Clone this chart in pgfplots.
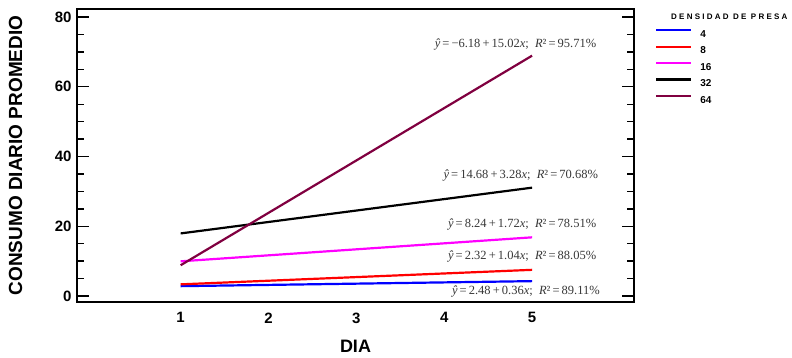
\documentclass[border=0pt]{standalone}
\usepackage{fontspec}
\setmainfont{Liberation Sans}
\newfontfamily\spaced[LetterSpace=28]{Liberation Sans}
\newfontfamily\serif{Liberation Serif}
\usepackage{pgfplots}
\pgfplotsset{compat=1.18}
\definecolor{maroonc}{RGB}{128,0,64}
\definecolor{anncol}{RGB}{55,55,55}
\definecolor{cblue}{RGB}{0,0,255}
\definecolor{cred}{RGB}{255,0,0}
\definecolor{cmag}{RGB}{255,0,255}
\newcommand{\eqn}[3]{{\itshape ŷ}\,=\,#1\,+\,#2{\itshape x};\ \ {\itshape R}²\,=\,#3\%}
\begin{document}
\begin{tikzpicture}[ann/.style={anchor=east, text=anncol, font=\serif\fontsize{12.5}{12.5}\selectfont}]
\begin{axis}[
  scale only axis, width=557pt, height=293pt,
  xmin=-0.18, xmax=6.16, ymin=-1.7, ymax=82.3,
  xtick={1,2,3,4,5}, ytick={0,20,40,60,80},
  minor ytick={5,10,15,25,30,35,45,50,55,65,70,75},
  axis line style={line width=2pt},
  tick align=inside,
  major tick length=12pt, minor tick length=7pt,
  ytick style={black, line width=1.4pt},
  minor tick style={black, line width=1.4pt},
  xtick style={draw=none},
  ticklabel style={font=\bfseries\fontsize{15}{15}\selectfont},
  /pgf/number format/assume math mode=true,
  xticklabel style={yshift=-7pt},
  yticklabel style={xshift=-2pt},
  legend style={at={(1,1)}, anchor=north west, xshift=21pt, yshift=-20pt,
    draw=none, fill=none, inner sep=0pt,
    font=\bfseries\fontsize{10}{10}\selectfont,
    nodes={inner sep=0pt, text height=7.2pt, text depth=0pt},
    row sep=8.1pt,
    /tikz/every odd column/.append style={column sep=8pt}},
  legend cell align=left,
  legend image code/.code={\draw[#1] (0pt,3.6pt) -- (35pt,3.6pt);},
]
\addplot[cblue, line width=2.2pt] coordinates {(1,2.84) (5,4.28)};
\addlegendentry{4}
\addplot[cred, line width=2.2pt] coordinates {(1,3.36) (5,7.52)};
\addlegendentry{8}
\addplot[cmag, line width=2.2pt] coordinates {(1,9.96) (5,16.84)};
\addlegendentry{16}
\addplot[black, line width=2.2pt] coordinates {(1,17.96) (5,31.08)};
\addlegendentry{32}
\addplot[maroonc, line width=2.2pt] coordinates {(1,8.84) (5,68.92)};
\addlegendentry{64}
\node[ann] at (axis cs:5.77,72.2) {\eqn{−6.18}{15.02}{95.71}};
\node[ann] at (axis cs:5.79,34.7) {\eqn{14.68}{3.28}{70.68}};
\node[ann] at (axis cs:5.77,20.6) {\eqn{8.24}{1.72}{78.51}};
\node[ann] at (axis cs:5.77,11.2) {\eqn{2.32}{1.04}{88.05}};
\node[ann] at (axis cs:5.81,1.4) {\eqn{2.48}{0.36}{89.11}};
\end{axis}
\node[rotate=90, font=\bfseries\fontsize{19}{19}\selectfont] at ([xshift=-61.5pt]current axis.west) {CONSUMO DIARIO PROMEDIO};
\node[font=\bfseries\fontsize{18}{18}\selectfont] at ([yshift=-44pt]current axis.south) {DIA};
\node[anchor=west, inner sep=0pt, font=\spaced\bfseries\fontsize{8}{8}\selectfont] at ([xshift=37pt,yshift=-8pt]current axis.north east) {DENSIDAD DE PRESA};
\pgfresetboundingbox
\path[use as bounding box] ([xshift=-77pt,yshift=-56pt]current axis.south west) rectangle ([xshift=158pt,yshift=9pt]current axis.north east);
\end{tikzpicture}
\end{document}
